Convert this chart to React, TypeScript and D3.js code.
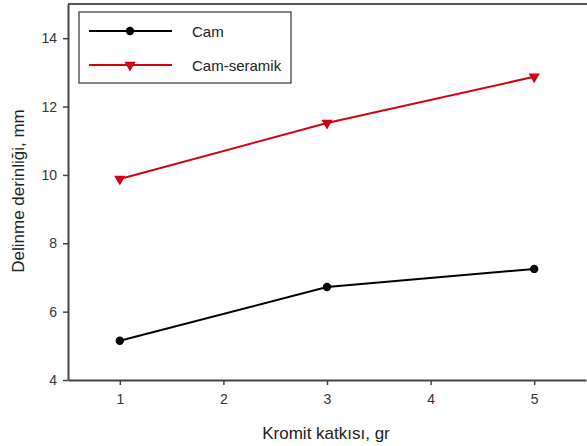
import React, { useEffect, useRef } from "react";
import * as d3 from "d3";

const xValues = [1, 3, 5];
const camValues = [5.15, 6.72, 7.25];
const seramikValues = [9.88, 11.52, 12.87];
const xTicks = [1, 2, 3, 4, 5];
const yTicks = [4, 6, 8, 10, 12, 14];
const seriesNames = ["Cam", "Cam-seramik"];

const App = () => {
  const ref = useRef<SVGSVGElement>(null);

  useEffect(() => {
    const svg = d3.select(ref.current);
    svg.selectAll("*").remove();
    const font = "Liberation Sans, Arial, sans-serif";

    const x = d3.scaleLinear().domain([0.5, 5.5]).range([68, 586]);
    const y = d3.scaleLinear().domain([4, 15]).range([380, 4]);

    // frame: top line
    svg.append("line").attr("x1", 68).attr("x2", 587).attr("y1", 4).attr("y2", 4)
      .attr("stroke", "#555").attr("stroke-width", 2);

    const xAxis = svg.append("g").attr("transform", "translate(0,380)")
      .call(d3.axisBottom(x).tickValues(xTicks).tickSize(5).tickSizeOuter(0).tickFormat(d3.format("d")));
    const yAxis = svg.append("g").attr("transform", "translate(68,0)")
      .call(d3.axisLeft(y).tickValues(yTicks).tickSize(5).tickSizeOuter(0).tickFormat(d3.format("d")));
    [xAxis, yAxis].forEach((a) => {
      a.select(".domain").attr("stroke", "#444").attr("stroke-width", 2);
      a.selectAll(".tick line").attr("stroke", "#444").attr("stroke-width", 1.5);
      a.selectAll(".tick text").attr("font-family", font).attr("font-size", 14).attr("fill", "#333");
    });
    xAxis.selectAll(".tick text").attr("dy", "1.15em");
    yAxis.selectAll(".tick text").attr("dx", "-3");

    svg.append("text").attr("x", 326).attr("y", 439).attr("text-anchor", "middle")
      .attr("font-family", font).attr("font-size", 17).attr("fill", "#222")
      .text("Kromit katkısı, gr");
    svg.append("text").attr("transform", "translate(24,191) rotate(-90)").attr("text-anchor", "middle")
      .attr("font-family", font).attr("font-size", 17).attr("fill", "#222")
      .text("Delinme derinliği, mm");

    const line = d3.line<number>().x((_, i) => x(xValues[i])).y((d) => y(d));
    const colors = ["#000", "#d40016"];
    const tri = d3.symbol().type(d3.symbolTriangle).size(55);

    [camValues, seramikValues].forEach((vals, s) => {
      svg.append("path").attr("d", line(vals)).attr("fill", "none")
        .attr("stroke", colors[s]).attr("stroke-width", 2);
      vals.forEach((v, i) => {
        if (s === 0) {
          svg.append("circle").attr("cx", x(xValues[i])).attr("cy", y(v)).attr("r", 4.2).attr("fill", "#000");
        } else {
          svg.append("path").attr("d", tri()).attr("fill", colors[s])
            .attr("transform", `translate(${x(xValues[i])},${y(v)}) rotate(180)`);
        }
      });
    });

    // legend
    const lg = svg.append("g");
    lg.append("rect").attr("x", 79).attr("y", 12).attr("width", 212).attr("height", 71)
      .attr("fill", "#fff").attr("stroke", "#333").attr("stroke-width", 1.2);
    seriesNames.forEach((name, s) => {
      const ly = s === 0 ? 31 : 65;
      lg.append("line").attr("x1", 89).attr("x2", 172).attr("y1", ly).attr("y2", ly)
        .attr("stroke", colors[s]).attr("stroke-width", 2);
      if (s === 0) {
        lg.append("circle").attr("cx", 130).attr("cy", ly).attr("r", 4.2).attr("fill", "#000");
      } else {
        lg.append("path").attr("d", tri()).attr("fill", colors[s])
          .attr("transform", `translate(130,${ly}) rotate(180)`);
      }
      lg.append("text").attr("x", 192).attr("y", ly + 5.5).attr("font-family", font)
        .attr("font-size", 15).attr("fill", "#222").text(name);
    });
  }, []);

  return (
    <svg ref={ref} width={587} height={446}
      style={{ position: "absolute", left: 0, top: 0, background: "#fff" }} />
  );
};

export default App;
